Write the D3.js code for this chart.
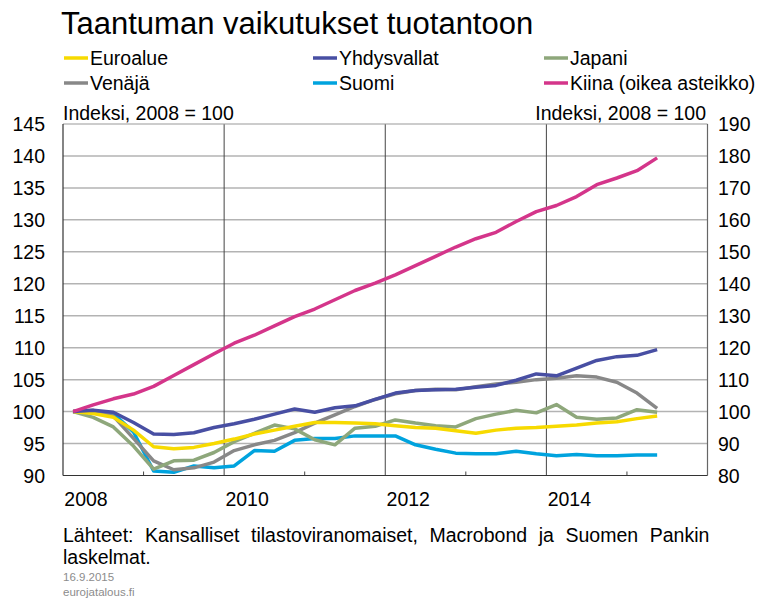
<!DOCTYPE html>
<html><head><meta charset="utf-8">
<script src="https://cdn.jsdelivr.net/npm/d3@7"></script>
<style>
html,body{margin:0;padding:0;background:#fff;}
svg text{font-family:"Liberation Sans",Arial,sans-serif;fill:#000;}
</style></head>
<body><svg id="c" width="760" height="601"></svg>
<script>
// ---- data (quarterly, 2008Q1 .. 2015Q2) ----
const quarters = d3.range(30).map(i => 2008 + (i + 0.5) / 4);
const euroalue = [100, 99.7, 99.1, 97.1, 94.5, 94.2, 94.4, 95.0, 95.7, 96.5, 97.1, 97.7, 98.3, 98.3, 98.2, 98.1, 97.8, 97.5, 97.4, 97.0, 96.6, 97.1, 97.4, 97.5, 97.7, 97.9, 98.2, 98.4, 98.9, 99.3];
const yhdysvallat = [100, 100.2, 99.9, 98.3, 96.5, 96.4, 96.7, 97.5, 98.1, 98.8, 99.6, 100.4, 99.9, 100.6, 100.9, 101.9, 102.9, 103.3, 103.4, 103.5, 103.8, 104.1, 104.9, 105.9, 105.6, 106.8, 108.0, 108.6, 108.8, 109.7];
const japani = [100, 99.1, 97.6, 94.6, 91.0, 92.3, 92.4, 93.6, 95.3, 96.6, 97.9, 97.3, 95.6, 94.8, 97.4, 97.7, 98.7, 98.2, 97.8, 97.6, 98.9, 99.6, 100.2, 99.8, 101.1, 99.1, 98.8, 99.0, 100.3, 99.9];
const venaja = [100, 100.2, 99.3, 95.8, 92.3, 90.9, 91.2, 92.1, 93.9, 94.8, 95.5, 96.7, 98.2, 99.5, 100.8, 101.9, 102.8, 103.3, 103.5, 103.4, 103.9, 104.3, 104.6, 105.0, 105.2, 105.6, 105.4, 104.6, 102.9, 100.5];
const suomi = [100, 100.0, 99.7, 96.8, 90.7, 90.5, 91.5, 91.2, 91.5, 93.9, 93.8, 95.5, 95.8, 95.8, 96.2, 96.2, 96.2, 94.8, 94.1, 93.5, 93.4, 93.4, 93.8, 93.4, 93.1, 93.3, 93.1, 93.1, 93.2, 93.2];
const kiina = [100, 102.1, 104.0, 105.5, 107.9, 111.3, 114.7, 118.1, 121.4, 123.9, 126.8, 129.7, 132.1, 135.0, 137.9, 140.2, 142.8, 145.7, 148.6, 151.5, 154.1, 156.1, 159.5, 162.6, 164.5, 167.3, 171.0, 173.1, 175.4, 179.4];

const seriesNames = ["Euroalue", "Yhdysvallat", "Japani", "Venäjä", "Suomi", "Kiina (oikea asteikko)"];
const seriesColors = ["#f7da00", "#484fa3", "#8ea77b", "#888888", "#00a3de", "#d4358a"];
const seriesData = [euroalue, yhdysvallat, japani, venaja, suomi, kiina];
const seriesAxis = ["left", "left", "left", "left", "left", "right"];
const drawOrder = [4, 3, 2, 0, 1, 5];

const leftTicks = [90, 95, 100, 105, 110, 115, 120, 125, 130, 135, 140, 145];
const rightTicks = [80, 90, 100, 110, 120, 130, 140, 150, 160, 170, 180, 190];
const yearLabels = [2008, 2010, 2012, 2014];
const minorYears = [2009, 2011, 2013, 2015];

const title = "Taantuman vaikutukset tuotantoon";
const unitText = "Indeksi, 2008 = 100";
const sourceLines = ["Lähteet: Kansalliset tilastoviranomaiset, Macrobond ja Suomen Pankin", "laskelmat."];
const dateText = "16.9.2015";
const siteText = "eurojatalous.fi";

// ---- layout ----
const svg = d3.select("#c");
const X0 = 63, X1 = 707.5, Y0 = 124, Y1 = 475.5;
const x = d3.scaleLinear().domain([2008, 2016]).range([X0, X1]);
const yL = d3.scaleLinear().domain([90, 145]).range([Y1, Y0]);
const yR = d3.scaleLinear().domain([80, 190]).range([Y1, Y0]);

// title
svg.append("text").attr("x", 61).attr("y", 34).attr("font-size", 31).text(title);

// legend
const legX = [64, 313, 544], legY = [58, 83];
seriesNames.forEach((n, i) => {
  const cx = legX[i % 3], cy = legY[Math.floor(i / 3)];
  svg.append("line").attr("x1", cx).attr("x2", cx + 24).attr("y1", cy).attr("y2", cy)
    .attr("stroke", seriesColors[i]).attr("stroke-width", 3.5);
  svg.append("text").attr("x", cx + 26).attr("y", cy + 7).attr("font-size", 19.5).text(n);
});

// unit labels
svg.append("text").attr("x", 63).attr("y", 120).attr("font-size", 19.5).text(unitText);
svg.append("text").attr("x", 706).attr("y", 120).attr("font-size", 19.5).attr("text-anchor", "end").text(unitText);

// horizontal gridlines
const g = svg.append("g");
g.selectAll("line.h").data(leftTicks.slice(1, -1)).join("line")
  .attr("x1", X0).attr("x2", X1).attr("y1", d => yL(d)).attr("y2", d => yL(d))
  .attr("stroke", "#b3b3b3").attr("stroke-width", 1.5);
// vertical gridlines
g.selectAll("line.v").data(yearLabels.slice(1)).join("line")
  .attr("x1", d => x(d)).attr("x2", d => x(d)).attr("y1", Y0).attr("y2", Y1)
  .attr("stroke", "#444").attr("stroke-width", 1);
// minor ticks
g.selectAll("line.t").data(minorYears).join("line")
  .attr("x1", d => x(d)).attr("x2", d => x(d)).attr("y1", Y1 - 4).attr("y2", Y1)
  .attr("stroke", "#444").attr("stroke-width", 1);
// frame
g.append("line").attr("x1", X0).attr("x2", X1).attr("y1", Y0).attr("y2", Y0).attr("stroke", "#999").attr("stroke-width", 1.2);
g.append("line").attr("x1", X1).attr("x2", X1).attr("y1", Y0).attr("y2", Y1).attr("stroke", "#666").attr("stroke-width", 1.2);
g.append("line").attr("x1", X0).attr("x2", X0).attr("y1", Y0).attr("y2", Y1).attr("stroke", "#333").attr("stroke-width", 1.2);
g.append("line").attr("x1", X0).attr("x2", X1).attr("y1", Y1).attr("y2", Y1).attr("stroke", "#333").attr("stroke-width", 1.2);

// axis labels
svg.selectAll("text.l").data(leftTicks).join("text")
  .attr("x", 45).attr("y", d => yL(d) + 7).attr("text-anchor", "end").attr("font-size", 19.5).text(d => d);
svg.selectAll("text.r").data(rightTicks).join("text")
  .attr("x", 718).attr("y", d => yR(d) + 7).attr("font-size", 19.5).text(d => d);
svg.selectAll("text.x").data(yearLabels).join("text")
  .attr("x", d => x(d) + 23).attr("y", 506).attr("text-anchor", "middle").attr("font-size", 19.5).text(d => d);

// lines
const lineL = d3.line().x((d, i) => x(quarters[i])).y(d => yL(d));
const lineR = d3.line().x((d, i) => x(quarters[i])).y(d => yR(d));
drawOrder.forEach(i => {
  svg.append("path").datum(seriesData[i])
    .attr("d", seriesAxis[i] === "right" ? lineR : lineL)
    .attr("fill", "none").attr("stroke", seriesColors[i]).attr("stroke-width", 3.5)
    .attr("stroke-linejoin", "round");
});

// footer
svg.append("text").attr("x", 63).attr("y", 542).attr("font-size", 19.5).style("word-spacing", "6.2px").text(sourceLines[0]);
svg.append("text").attr("x", 63).attr("y", 564).attr("font-size", 19.5).text(sourceLines[1]);
svg.append("text").attr("x", 63).attr("y", 581).attr("font-size", 11.5).style("fill", "#8c8c8c").text(dateText);
svg.append("text").attr("x", 63).attr("y", 596).attr("font-size", 11.5).style("fill", "#8c8c8c").text(siteText);
</script></body></html>
